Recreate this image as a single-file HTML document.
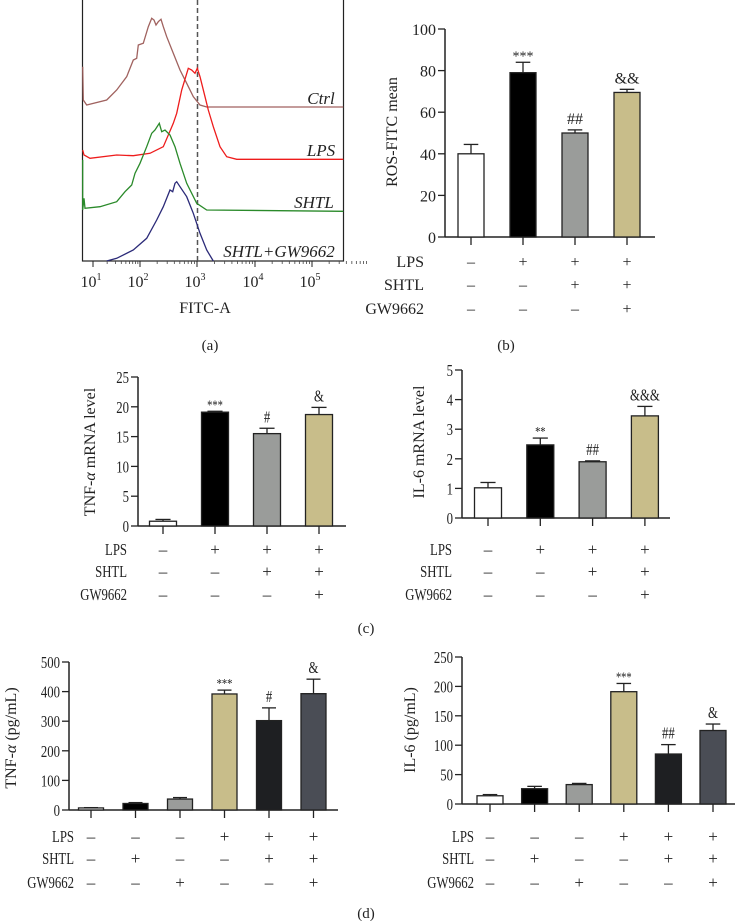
<!DOCTYPE html>
<html><head><meta charset="utf-8"><style>
html,body{margin:0;padding:0;background:#fff}
svg{display:block}
text{font-family:"Liberation Serif",serif;fill:#222}
</style></head><body>
<svg id="fig" width="735" height="921" viewBox="0 0 735 921" xmlns="http://www.w3.org/2000/svg">
<g id="flow">
  <rect x="82.5" y="-1" width="261" height="262" fill="none" stroke="#222" stroke-width="1.2"/>
  <line x1="197.5" y1="0" x2="197.5" y2="261" stroke="#555" stroke-width="1.5" stroke-dasharray="5,3"/>
  <g id="flowCurves"></g>
  <g id="flowTicks"></g>
  <text x="321" y="104" font-size="17" font-style="italic" text-anchor="middle">Ctrl</text>
  <text x="321" y="156" font-size="17" font-style="italic" text-anchor="middle">LPS</text>
  <text x="314" y="208" font-size="17" font-style="italic" text-anchor="middle">SHTL</text>
  <text x="279" y="257" font-size="17" font-style="italic" text-anchor="middle">SHTL+GW9662</text>
  <text x="205" y="313" font-size="16" text-anchor="middle">FITC-A</text>
</g>
<text x="210" y="350" font-size="15" text-anchor="middle">(a)</text>
<text x="506" y="350" font-size="15" text-anchor="middle">(b)</text>
<text x="366" y="633" font-size="15" text-anchor="middle">(c)</text>
<text x="366" y="918" font-size="15" text-anchor="middle">(d)</text>
</svg>
<script>
// ---- flow cytometry histogram data (channel position, height in plot units) ----
const flowTickLabels = ["1","2","3","4","5"];
const flowTickPos = [95,142,199,257,314];
const ctrlX = [248,250,260,320,350,380,400,410,415,430,445,455,462,468,475,483,490,500,520,540,560,580,600,620,1030];
const ctrlY = [200,300,315,300,270,230,180,175,135,130,80,55,60,75,65,58,80,110,160,210,250,290,315,321,321];
const lpsX = [248,252,270,350,400,450,490,520,530,545,565,575,585,592,600,615,625,640,660,680,710,1030];
const lpsY = [450,465,475,465,467,460,440,370,340,270,205,210,220,205,230,290,330,380,440,470,478,478];
const shtlX = [248,248,252,255,300,350,375,395,405,420,440,455,465,478,485,495,510,525,540,560,590,620,1030];
const shtlY = [480,630,595,625,620,605,575,555,520,490,440,400,390,370,395,390,405,440,490,550,610,630,634];
const gwX = [320,350,400,440,470,490,500,510,518,525,530,540,560,580,600,620,640];
const gwY = [783,775,750,715,660,620,595,570,575,550,545,560,590,640,700,750,783];

// ---- bar chart data ----
const rosValues = [40,79,50,69.5];
const rosErr = [4.5,5,1.5,1.5];
const rosMarks = ["","***","##","&&"];
const tnfMrnaValues = [0.8,19.1,15.5,18.7];
const tnfMrnaErr = [0.3,0.15,0.9,1.2];
const tnfMrnaMarks = ["","***","#","&"];
const il6MrnaValues = [1.02,2.47,1.9,3.45];
const il6MrnaErr = [0.18,0.23,0.03,0.32];
const il6MrnaMarks = ["","**","##","&&&"];
const tnfProtValues = [7,22,37,392,302,393];
const tnfProtErr = [1,3,5,13,43,49];
const tnfProtMarks = ["","","","***","#","&"];
const il6ProtValues = [14,26,33,191,85,125];
const il6ProtErr = [2,4,2,14,16,11];
const il6ProtMarks = ["","","","***","##","&"];
const lps4 = ["–","+","+","+"], shtl4 = ["–","–","+","+"], gw4 = ["–","–","–","+"];
const lps6 = ["–","–","–","+","+","+"], shtl6 = ["–","+","–","–","+","+"], gw6 = ["–","–","+","–","–","+"];
const ticksRos = [0,20,40,60,80,100];
const ticksTnfM = [0,5,10,15,20,25];
const ticksIl6M = [0,1,2,3,4,5];
const ticksTnfP = [0,100,200,300,400,500];
const ticksIl6P = [0,50,100,150,200,250];

const NS = "http://www.w3.org/2000/svg";
const svg = document.getElementById('fig');
function mk(tag, attrs, parent){
  const e = document.createElementNS(NS, tag);
  for (const k in attrs) e.setAttribute(k, attrs[k]);
  (parent||svg).appendChild(e);
  return e;
}

const fx = v => v/3, fy = v => v/3;
const curves = document.getElementById('flowCurves');
[[ctrlX,ctrlY,"#a0625f","curve-ctrl"],[lpsX,lpsY,"#ee1c1c","curve-lps"],[shtlX,shtlY,"#2a8a2a","curve-shtl"],[gwX,gwY,"#2b2a78","curve-shtl-gw9662"]].forEach(c=>{
  const d = c[0].map((x,i)=>(i?"L":"M")+fx(x).toFixed(1)+","+fy(c[1][i]).toFixed(1)).join("");
  const p = mk('path',{d:d,fill:"none",stroke:c[2],"stroke-width":1.3},curves);
  
  
});
const ft = document.getElementById('flowTicks');
flowTickPos.forEach((px,i)=>{
  const l = mk('line',{x1:px-2,y1:261,x2:px-2,y2:267,stroke:"#222","stroke-width":1},ft);
  
  
  const t = mk('text',{x:px-4,y:287,"font-size":16,"text-anchor":"middle"},ft);
  
  
  t.textContent = "10";
  const s = mk('tspan',{dy:-7,"font-size":10},t);
  s.textContent = flowTickLabels[i];
  for (let m=2;m<10;m++){
    const next = i<flowTickPos.length-1 ? flowTickPos[i+1] : px+57;
    const mx = px-2 + (next-px)*Math.log10(m);
    const ml = mk('line',{x1:mx,y1:261,x2:mx,y2:264,stroke:"#444","stroke-width":0.8},ft);
    
    
  }
});

function txt(g, x, y, s, fs, anchor, sx, rot){
  const t = mk('text',{x:0,y:0,"font-size":fs,"text-anchor":anchor,
    transform:`translate(${x},${y})`+(rot?` rotate(-90)`:``)+` scale(${sx},1)`},g);
  t.innerHTML = s;
  return t;
}

function barChart(o){
  const g = mk('g',{});
  
  
  const ymax = o.ticks[o.ticks.length-1];
  const Y = v => o.y0 - (v/ymax)*(o.y0-o.yTop);
  const X = i => o.c0 + i*o.step;
  const ya = mk('line',{x1:o.ax,y1:o.yTop,x2:o.ax,y2:o.y0,stroke:"#222","stroke-width":1.5},g);
   
  const xa = mk('line',{x1:o.ax,y1:o.y0,x2:o.axEnd,y2:o.y0,stroke:"#222","stroke-width":1.5},g);
   
  o.ticks.forEach(t=>{
    const tl = mk('line',{x1:o.ax-7,y1:Y(t),x2:o.ax,y2:Y(t),stroke:"#222","stroke-width":1.3},g);
     
    const tx = txt(g, o.ax-9, Y(t)+6, String(t), o.fs, "end", o.sx, false);
     
  });
  const yt = txt(g, o.titleX, o.titleY, o.title, 16, "middle", 1, true);
   
  o.values.forEach((v,i)=>{
    const cx = X(i);
    const tk = mk('line',{x1:cx,y1:o.y0,x2:cx,y2:o.y0+8,stroke:"#222","stroke-width":1.3},g);
     
    const top = Y(v+o.err[i]);
    const el = mk('line',{x1:cx,y1:top,x2:cx,y2:Y(v),stroke:"#222","stroke-width":1.3},g);
     
    const ec = mk('line',{x1:cx-o.bw*0.28,y1:top,x2:cx+o.bw*0.28,y2:top,stroke:"#222","stroke-width":1.3},g);
     
    const b = mk('rect',{x:cx-o.bw/2,y:Y(v),width:o.bw,height:o.y0-Y(v),fill:o.colors[i],stroke:"#222","stroke-width":1.3},g);
     
    if (o.marks[i]){
      const isStar = o.marks[i][0]==="*";
      const m = txt(g, cx, top-(isStar?2:6), o.marks[i].replace(/&/g,"&amp;"), isStar?14:o.fs, "middle", o.sx, false);
      m.setAttribute('fill','#333');
       
    }
  });
  o.rows.forEach((r,ri)=>{
    const ry = o.rowY[ri];
    const lab = txt(g, o.rowLabelX, ry+6, r[0], o.fs, "end", o.sx, false);
     
    r[1].forEach((s,i)=>{
      const st = txt(g, X(i), ry+6, s, o.fs, "middle", 1, false);
       
    });
  });
}
const C4 = ["#ffffff","#000000","#9a9c9a","#c8bd8a"];
const C6 = ["#ffffff","#000000","#9a9c9a","#c8bd8a","#1e1f22","#4a4d55"];
barChart({name:"ros-fitc-chart",values:rosValues,err:rosErr,marks:rosMarks,ticks:ticksRos,ax:445,axEnd:655,yTop:29,y0:237,c0:471,step:52,bw:26,colors:C4,title:"ROS-FITC mean",titleX:397,titleY:132,rowLabelX:424,rowY:[261,284,308],rows:[["LPS",lps4],["SHTL",shtl4],["GW9662",gw4]],fs:16,sx:1});
barChart({name:"tnf-mrna-chart",values:tnfMrnaValues,err:tnfMrnaErr,marks:tnfMrnaMarks,ticks:ticksTnfM,ax:138,axEnd:346,yTop:377,y0:526,c0:163,step:52,bw:27,colors:C4,title:"TNF-<tspan font-style='italic'>α</tspan> mRNA level",titleX:95,titleY:452,rowLabelX:127,rowY:[549,571,594],rows:[["LPS",lps4],["SHTL",shtl4],["GW9662",gw4]],fs:17,sx:0.75});
barChart({name:"il6-mrna-chart",values:il6MrnaValues,err:il6MrnaErr,marks:il6MrnaMarks,ticks:ticksIl6M,ax:462,axEnd:670,yTop:370,y0:518,c0:488,step:52.3,bw:27,colors:C4,title:"IL-6 mRNA level",titleX:424,titleY:442,rowLabelX:452,rowY:[549,571,594],rows:[["LPS",lps4],["SHTL",shtl4],["GW9662",gw4]],fs:17,sx:0.75});
barChart({name:"tnf-protein-chart",values:tnfProtValues,err:tnfProtErr,marks:tnfProtMarks,ticks:ticksTnfP,ax:69,axEnd:338,yTop:662,y0:810,c0:91,step:44.5,bw:25,colors:C6,title:"TNF-<tspan font-style='italic'>α</tspan> (pg/mL)",titleX:16,titleY:738,rowLabelX:74,rowY:[836,858,882],rows:[["LPS",lps6],["SHTL",shtl6],["GW9662",gw6]],fs:17,sx:0.75});
barChart({name:"il6-protein-chart",values:il6ProtValues,err:il6ProtErr,marks:il6ProtMarks,ticks:ticksIl6P,ax:462,axEnd:735,yTop:657,y0:804,c0:490,step:44.6,bw:26,colors:C6,title:"IL-6 (pg/mL)",titleX:415,titleY:730,rowLabelX:474,rowY:[836,858,882],rows:[["LPS",lps6],["SHTL",shtl6],["GW9662",gw6]],fs:17,sx:0.75});
</script>
</body></html>
